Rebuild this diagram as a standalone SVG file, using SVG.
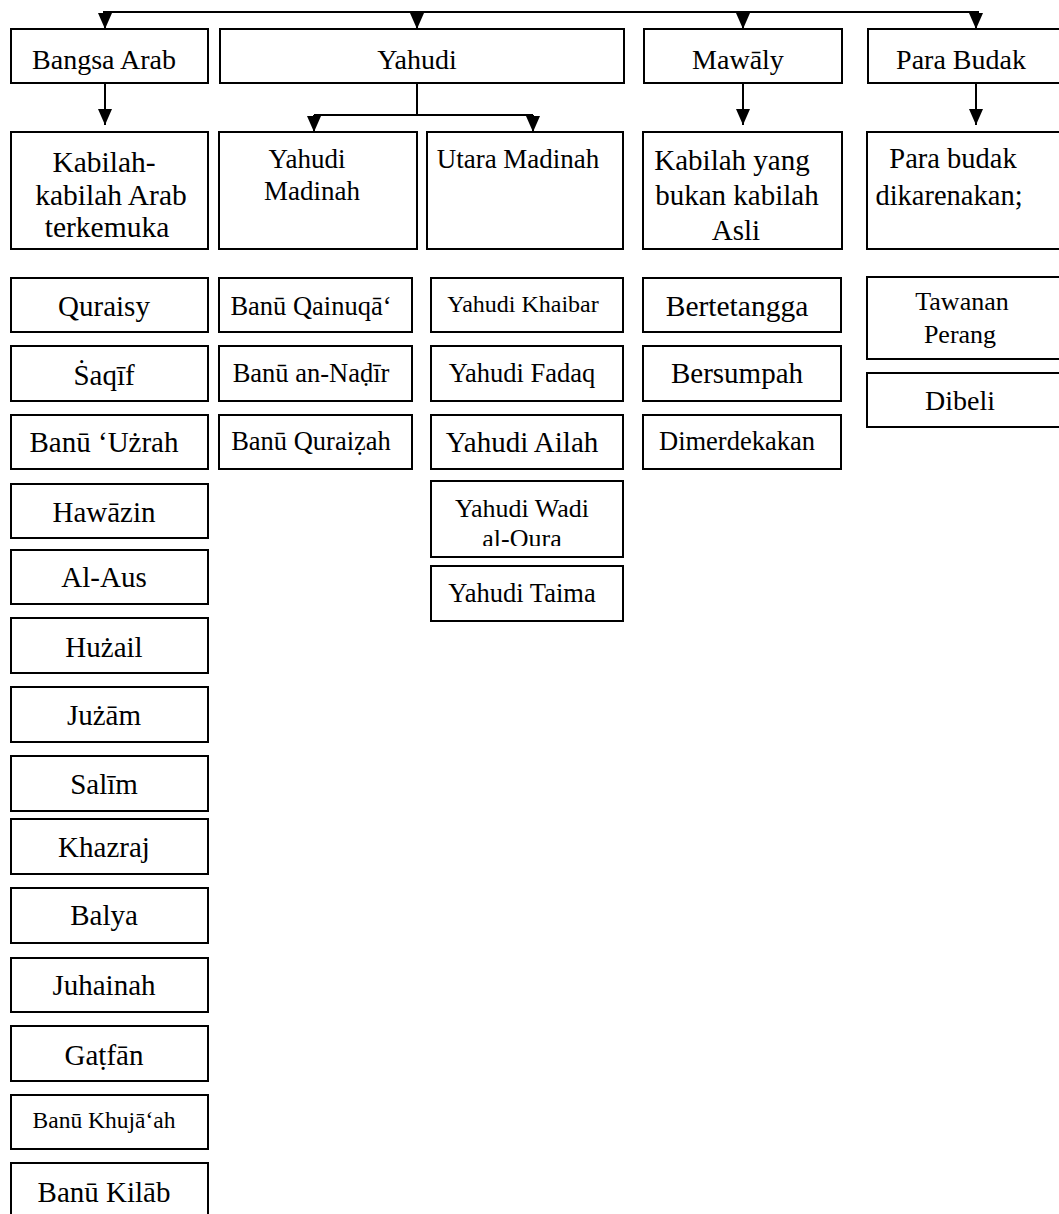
<svg xmlns="http://www.w3.org/2000/svg" width="1059" height="1214" viewBox="0 0 1059 1214">
<style>
.box{fill:#fff;stroke:#000;stroke-width:2}
.t{font-family:"Liberation Serif","Times New Roman",serif;fill:#000;text-anchor:middle}
.conn{stroke:#000;stroke-width:2;fill:none}
</style>
<defs>
<marker id="ah" viewBox="0 0 16 14" refX="16" refY="7" markerWidth="16" markerHeight="14" markerUnits="userSpaceOnUse" orient="auto">
<path d="M0,0 L16,7 L0,14 z" fill="#000"/>
</marker>
<clipPath id="clipWadi"><rect x="431" y="481" width="192" height="65"/></clipPath>
</defs>
<rect width="1059" height="1214" fill="#fff"/>

<g id="connectors">
<path class="conn" d="M103,12 H979"/>
<path class="conn" d="M105,12 V29" marker-end="url(#ah)"/>
<path class="conn" d="M417,12 V29" marker-end="url(#ah)"/>
<path class="conn" d="M743,12 V29" marker-end="url(#ah)"/>
<path class="conn" d="M976,12 V29" marker-end="url(#ah)"/>
<path class="conn" d="M105,83 V125" marker-end="url(#ah)"/>
<path class="conn" d="M417,83 V115 M314,115 H533"/>
<path class="conn" d="M314,115 V132" marker-end="url(#ah)"/>
<path class="conn" d="M533,115 V132" marker-end="url(#ah)"/>
<path class="conn" d="M743,83 V125" marker-end="url(#ah)"/>
<path class="conn" d="M976,83 V125" marker-end="url(#ah)"/>
</g>

<g id="n-bangsa-arab"><rect class="box" x="11" y="29" width="197" height="54"/><text class="t" x="104" y="69" font-size="28">Bangsa Arab</text></g>
<g id="n-yahudi"><rect class="box" x="220" y="29" width="404" height="54"/><text class="t" x="417" y="69" font-size="28">Yahudi</text></g>
<g id="n-mawaly"><rect class="box" x="644" y="29" width="198" height="54"/><text class="t" x="738" y="69" font-size="28">Mawāly</text></g>
<g id="n-para-budak"><rect class="box" x="868" y="29" width="194" height="54"/><text class="t" x="961" y="69" font-size="28">Para Budak</text></g>

<g id="n-kabilah-arab"><rect class="box" x="11" y="132" width="197" height="117"/>
<text class="t" font-size="29.5"><tspan x="104" y="172">Kabilah-</tspan><tspan x="111" y="205">kabilah Arab</tspan><tspan x="107" y="237">terkemuka</tspan></text></g>
<g id="n-yahudi-madinah"><rect class="box" x="219" y="132" width="198" height="117"/>
<text class="t" font-size="27"><tspan x="307" y="168">Yahudi</tspan><tspan x="312" y="200">Madinah</tspan></text></g>
<g id="n-utara-madinah"><rect class="box" x="427" y="132" width="196" height="117"/>
<text class="t" x="518" y="168" font-size="27">Utara Madinah</text></g>
<g id="n-kabilah-bukan"><rect class="box" x="643" y="132" width="199" height="117"/>
<text class="t" font-size="29"><tspan x="732" y="170">Kabilah yang</tspan><tspan x="737" y="205">bukan kabilah</tspan><tspan x="736" y="240">Asli</tspan></text></g>
<g id="n-para-budak-karena"><rect class="box" x="867" y="132" width="195" height="117"/>
<text class="t" font-size="28.5"><tspan x="953" y="168">Para budak</tspan><tspan x="949" y="205">dikarenakan;</tspan></text></g>

<g id="n-quraisy"><rect class="box" x="11" y="278" width="197" height="54"/><text class="t" x="104" y="316" font-size="29">Quraisy</text></g>
<g id="n-saqif"><rect class="box" x="11" y="346" width="197" height="55"/><text class="t" x="104" y="385" font-size="29">Ṡaqīf</text></g>
<g id="n-uzrah"><rect class="box" x="11" y="415" width="197" height="54"/><text class="t" x="104" y="452" font-size="29">Banū ‘Użrah</text></g>
<g id="n-hawazin"><rect class="box" x="11" y="484" width="197" height="54"/><text class="t" x="104" y="522" font-size="29">Hawāzin</text></g>
<g id="n-al-aus"><rect class="box" x="11" y="550" width="197" height="54"/><text class="t" x="104" y="587" font-size="29">Al-Aus</text></g>
<g id="n-huzail"><rect class="box" x="11" y="618" width="197" height="55"/><text class="t" x="104" y="657" font-size="29">Hużail</text></g>
<g id="n-juzam"><rect class="box" x="11" y="687" width="197" height="55"/><text class="t" x="104" y="725" font-size="29">Jużām</text></g>
<g id="n-salim"><rect class="box" x="11" y="756" width="197" height="55"/><text class="t" x="104" y="794" font-size="29">Salīm</text></g>
<g id="n-khazraj"><rect class="box" x="11" y="819" width="197" height="55"/><text class="t" x="104" y="857" font-size="29">Khazraj</text></g>
<g id="n-balya"><rect class="box" x="11" y="888" width="197" height="55"/><text class="t" x="104" y="925" font-size="29">Balya</text></g>
<g id="n-juhainah"><rect class="box" x="11" y="958" width="197" height="54"/><text class="t" x="104" y="995" font-size="29">Juhainah</text></g>
<g id="n-gatfan"><rect class="box" x="11" y="1026" width="197" height="55"/><text class="t" x="104" y="1065" font-size="29">Gaṭfān</text></g>
<g id="n-khujaah"><rect class="box" x="11" y="1095" width="197" height="54"/><text class="t" x="104" y="1128" font-size="23.5">Banū Khujā‘ah</text></g>
<g id="n-kilab"><rect class="box" x="11" y="1163" width="197" height="60"/><text class="t" x="104" y="1202" font-size="29">Banū Kilāb</text></g>

<g id="n-qainuqa"><rect class="box" x="219" y="278" width="193" height="54"/><text class="t" x="311" y="315" font-size="26.5">Banū Qainuqā‘</text></g>
<g id="n-nadir"><rect class="box" x="219" y="346" width="193" height="55"/><text class="t" x="311" y="382" font-size="26.5">Banū an-Naḍīr</text></g>
<g id="n-quraizah"><rect class="box" x="219" y="415" width="193" height="54"/><text class="t" x="311" y="450" font-size="26.5">Banū Quraiẓah</text></g>

<g id="n-khaibar"><rect class="box" x="431" y="278" width="192" height="54"/><text class="t" x="523" y="312" font-size="24">Yahudi Khaibar</text></g>
<g id="n-fadaq"><rect class="box" x="431" y="346" width="192" height="55"/><text class="t" x="522" y="382" font-size="26.5">Yahudi Fadaq</text></g>
<g id="n-ailah"><rect class="box" x="431" y="415" width="192" height="54"/><text class="t" x="522" y="452" font-size="29">Yahudi Ailah</text></g>
<g id="n-wadi"><rect class="box" x="431" y="481" width="192" height="76"/>
<text class="t" font-size="26" clip-path="url(#clipWadi)"><tspan x="522" y="517">Yahudi Wadi</tspan><tspan x="522" y="547">al-Qura</tspan></text></g>
<g id="n-taima"><rect class="box" x="431" y="566" width="192" height="55"/><text class="t" x="522" y="602" font-size="26.5">Yahudi Taima</text></g>

<g id="n-bertetangga"><rect class="box" x="643" y="278" width="198" height="54"/><text class="t" x="737" y="316" font-size="29.5">Bertetangga</text></g>
<g id="n-bersumpah"><rect class="box" x="643" y="346" width="198" height="55"/><text class="t" x="737" y="383" font-size="29">Bersumpah</text></g>
<g id="n-dimerdekakan"><rect class="box" x="643" y="415" width="198" height="54"/><text class="t" x="737" y="450" font-size="26.5">Dimerdekakan</text></g>

<g id="n-tawanan"><rect class="box" x="867" y="277" width="195" height="82"/>
<text class="t" font-size="26"><tspan x="962" y="310">Tawanan</tspan><tspan x="960" y="343">Perang</tspan></text></g>
<g id="n-dibeli"><rect class="box" x="867" y="373" width="195" height="54"/><text class="t" x="960" y="410" font-size="28">Dibeli</text></g>
</svg>
